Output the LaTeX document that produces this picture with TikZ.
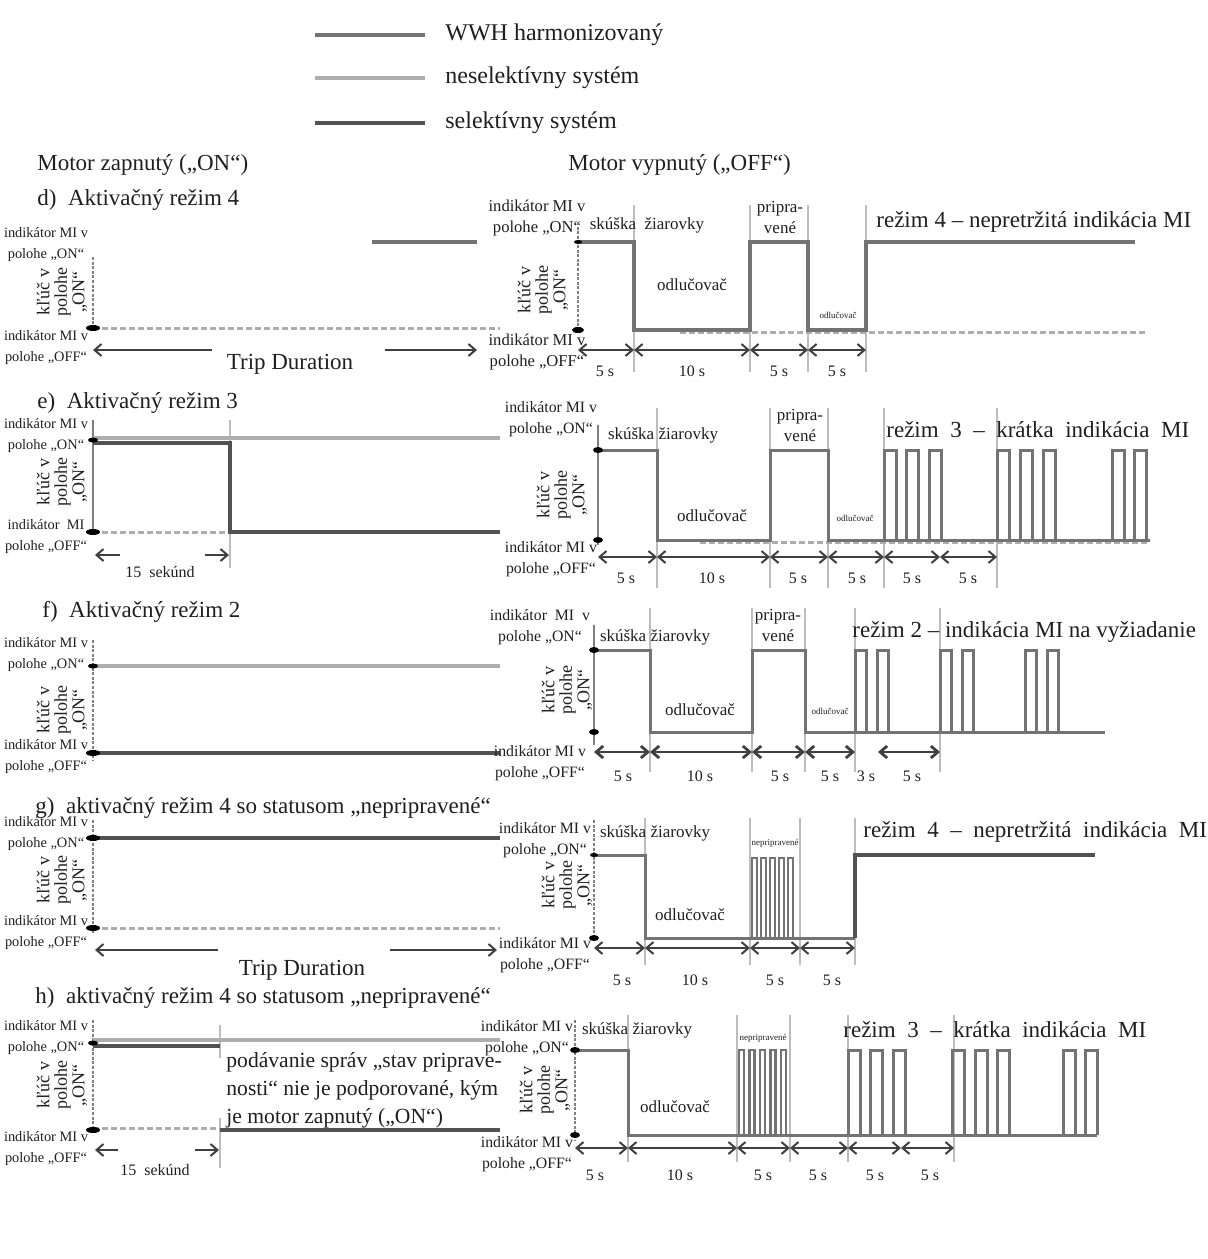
\documentclass[tikz,border=0pt]{standalone}
\usepackage{fontspec}
\setmainfont{Liberation Serif}
\usetikzlibrary{arrows.meta}
\definecolor{wwh}{gray}{0.45}
\definecolor{nonsel}{gray}{0.68}
\definecolor{sel}{gray}{0.32}
\definecolor{tick}{gray}{0.74}

\begin{document}
\begin{tikzpicture}[
        x=0.5pt, y=-0.5pt,
        every node/.style={inner sep=0pt, text=black!88},
        lab/.style={font=\fontsize{7.2}{10.5}\selectfont, align=center},
        rlab/.style={font=\fontsize{7.9}{10.5}\selectfont, align=center},
        keylab/.style={font=\fontsize{9}{8.8}\selectfont, align=center, rotate=90},
        head/.style={font=\fontsize{11.5}{13}\selectfont, anchor=west},
        legtext/.style={font=\fontsize{12}{14}\selectfont, anchor=west},
        mode/.style={font=\fontsize{11.5}{13}\selectfont, anchor=west},
        phase/.style={font=\fontsize{8.5}{10.5}\selectfont, align=center},
        tinylab/.style={font=\fontsize{4.5}{5}\selectfont},
        sec/.style={font=\fontsize{8}{9}\selectfont},
        axis/.style={draw=gray, line width=1.2pt, dash pattern=on 1.5pt off 0.8pt},
        sig/.style={draw=wwh, line width=1.5pt},
        base/.style={draw=nonsel, line width=1.5pt, dash pattern=on 3pt off 1.5pt},
        tickline/.style={draw=tick, line width=0.8pt},
        dim/.style={{Straight Barb[length=3.5pt,width=6pt]}-{Straight Barb[length=3.5pt,width=6pt]}, draw=black!75, line width=1pt},
        half/.style={-{Straight Barb[length=3.5pt,width=6pt]}, draw=black!75, line width=1pt},
        blob/.style={fill=black},
    ]
    \path[use as bounding box] (0,0) rectangle (1208,1259);

    % legend
    \draw[wwh, line width=2pt] (315,35) -- (425,35);
    \draw[nonsel, line width=2pt] (315,78) -- (425,78);
    \draw[sel, line width=2pt] (315,123) -- (425,123);
    \node[legtext] (leg-wwh) at (445,35) {WWH harmonizovaný};
    \node[legtext] (leg-non) at (445,78) {neselektívny systém};
    \node[legtext] (leg-sel) at (445,123) {selektívny systém};

    \node[head] (motor-on) at (37,165) {Motor zapnutý („ON“)};
    \node[head] (motor-off) at (568,165) {Motor vypnutý („OFF“)};

    % d
    \node[head] (d-title) at (37,200) {d)\ \ Aktivačný\ režim\ 4};
    \node[lab] (dL-on) at (46,245) {indikátor MI v\\polohe „ON“};
    \node[keylab] (dL-key) at (62,292) {kľúč v\\polohe\\„ON“};
    \node[lab] (dL-off) at (46,348) {indikátor MI v\\polohe „OFF“};
    \draw[axis] (93,257) -- (93,328);
    \draw[base] (93,328) -- (500,328);
    \fill[blob] (93,328) ellipse [x radius=7, y radius=3];
    \draw[wwh, line width=1.8pt] (372,242) -- (477,242);
    \coordinate (dL-a0) at (93,350);
    \coordinate (dL-a1) at (212,350);
    \coordinate (dL-a2) at (385,350);
    \coordinate (dL-a3) at (477,350);
    \draw[half] (dL-a1) -- (dL-a0);
    \draw[half] (dL-a2) -- (dL-a3);
    \node[font=\fontsize{11.5}{13}\selectfont] (dL-trip) at (290,364) {Trip Duration};

    \node[rlab, font=\fontsize{8.3}{10.5}\selectfont] (dR-on) at (537,218) {indikátor MI v\\polohe „ON“};
    \node[keylab] (dR-key) at (543,290) {kľúč v\\polohe\\„ON“};
    \node[rlab, font=\fontsize{8.3}{10.5}\selectfont] (dR-off) at (537,352) {indikátor MI v\\polohe „OFF“};
    \draw[axis] (578,222) -- (578,330);
    \foreach \x in {634,750,808,866} \draw[tickline] (\x,205) -- (\x,372);
    \draw[base] (680,332) -- (1145,332);
    \draw[sig, line width=2pt] (578,242) -- (634,242) -- (634,330) -- (750,330) -- (750,242) -- (808,242)
        -- (808,330) -- (866,330) -- (866,242) -- (1135,242);
    \fill[blob] (578,242) ellipse [x radius=4, y radius=2];
    \fill[blob] (578,330) ellipse [x radius=6, y radius=3];
    \foreach \x [count=\i] in {578,634,750,808,866} \coordinate (dR\i) at (\x,350);
    \foreach \i/\j in {1/2,2/3,3/4,4/5} \draw[dim] (dR\i) -- (dR\j);
    \foreach \x/\t [count=\i] in {605/5 s,692/10 s,779/5 s,837/5 s} \node[sec] (dR-s\i) at (\x,371) {\t};
    \node[phase] (dR-test) at (647,225) {skúška\ \ žiarovky};
    \node[phase] (dR-ready) at (780,217) {pripra-\\vené};
    \node[phase] (dR-disc) at (692,285) {odlučovač};
    \node[tinylab] (dR-disc2) at (838,315) {odlučovač};
    \node[mode] (dR-mode) at (876,222) {režim 4 – nepretržitá indikácia MI};

    % e
    \node[head] (e-title) at (37,403) {e)\ \ Aktivačný\ režim\ 3};
    \node[lab] (eL-on) at (46,436) {indikátor MI v\\polohe „ON“};
    \node[keylab] (eL-key) at (62,482) {kľúč v\\polohe\\„ON“};
    \node[lab] (eL-off) at (46,537) {indikátor\ \ MI\\polohe „OFF“};
    \draw[gray, line width=1pt] (93,420) -- (93,535);
    \draw[tickline] (230,420) -- (230,568);
    \draw[nonsel, line width=1.8pt] (93,438) -- (500,438);
    \draw[base] (93,532) -- (230,532);
    \draw[sel, line width=2pt] (93,443) -- (230,443) -- (230,532) -- (500,532);
    \fill[blob] (93,440) ellipse [x radius=5, y radius=2.5];
    \fill[blob] (93,532) ellipse [x radius=7, y radius=3];
    \coordinate (eL-a0) at (95,555);
    \coordinate (eL-a1) at (120,555);
    \coordinate (eL-a2) at (205,555);
    \coordinate (eL-a3) at (229,555);
    \draw[half] (eL-a1) -- (eL-a0);
    \draw[half] (eL-a2) -- (eL-a3);
    \node[sec] (eL-sec) at (160,572) {15\ \ sekúnd};

    \node[rlab] (eR-on) at (551,419) {indikátor MI v\\polohe „ON“};
    \node[keylab] (eR-key) at (562,495) {kľúč v\\polohe\\„ON“};
    \node[rlab] (eR-off) at (551,559) {indikátor MI v\\polohe „OFF“};
    \draw[gray, line width=1pt] (598,425) -- (598,545);
    \foreach \x in {657,770,828,884,997} \draw[tickline] (\x,408) -- (\x,588);
    \draw[base] (700,542) -- (1150,542);
    \draw[sig] (598,450) -- (657,450) -- (657,540) -- (770,540) -- (770,450) -- (828,450) -- (828,540) -- (1150,540);
    \foreach \s in {884,906,929,997,1020,1043,1112,1134}
        \draw[sig] (\s,540) -- (\s,450) -- (\s+12,450) -- (\s+12,540);
    \fill[blob] (598,450) ellipse [x radius=5, y radius=3];
    \fill[blob] (598,540) ellipse [x radius=5, y radius=3];
    \foreach \x [count=\i] in {598,657,770,828,884,940,997} \coordinate (eR\i) at (\x,557);
    \foreach \i/\j in {1/2,2/3,3/4,4/5,5/6,6/7} \draw[dim] (eR\i) -- (eR\j);
    \foreach \x/\t [count=\i] in {626/5 s,712/10 s,798/5 s,857/5 s,912/5 s,968/5 s} \node[sec] (eR-s\i) at (\x,578) {\t};
    \node[phase] (eR-test) at (663,435) {skúška žiarovky};
    \node[phase] (eR-ready) at (800,425) {pripra-\\vené};
    \node[phase] (eR-disc) at (712,516) {odlučovač};
    \node[tinylab] (eR-disc2) at (855,518) {odlučovač};
    \node[mode] (eR-mode) at (886,430) {režim\ \ 3\ \ –\ \ krátka\ \ indikácia\ \ MI};

    % f
    \node[head] (f-title) at (42,612) {f)\ \ Aktivačný\ režim\ 2};
    \node[lab] (fL-on) at (46,655) {indikátor MI v\\polohe „ON“};
    \node[keylab] (fL-key) at (62,710) {kľúč v\\polohe\\„ON“};
    \node[lab] (fL-off) at (46,757) {indikátor MI v\\polohe „OFF“};
    \draw[axis] (93,640) -- (93,760);
    \draw[nonsel, line width=1.8pt] (93,666) -- (500,666);
    \draw[sel, line width=2pt] (93,753) -- (500,753);
    \fill[blob] (93,666) ellipse [x radius=5, y radius=2.5];
    \fill[blob] (93,753) ellipse [x radius=7, y radius=3];

    \node[rlab] (fR-on) at (540,627) {indikátor\ \ MI\ \ v\\polohe „ON“};
    \node[keylab] (fR-key) at (567,690) {kľúč v\\polohe\\„ON“};
    \node[rlab] (fR-off) at (540,763) {indikátor MI v\\polohe „OFF“};
    \draw[gray, line width=1pt] (594,625) -- (594,745);
    \foreach \x in {650,752,805,855,940} \draw[tickline] (\x,608) -- (\x,772);
    \draw[sig] (594,650) -- (650,650) -- (650,732) -- (752,732) -- (752,650) -- (805,650) -- (805,732) -- (1105,732);
    \foreach \s in {855,877,940,962,1025,1047}
        \draw[sig] (\s,732) -- (\s,650) -- (\s+11,650) -- (\s+11,732);
    \fill[blob] (594,650) ellipse [x radius=5, y radius=3];
    \fill[blob] (594,732) ellipse [x radius=5, y radius=3];
    \foreach \x [count=\i] in {594,650,752,805,855} \coordinate (fR\i) at (\x,752);
    \foreach \i/\j in {1/2,2/3,3/4,4/5} \draw[dim, line width=1.4pt] (fR\i) -- (fR\j);
    \coordinate (fR6) at (878,752);
    \coordinate (fR7) at (940,752);
    \draw[dim, line width=1.4pt] (fR6) -- (fR7);
    \foreach \x/\t [count=\i] in {623/5 s,700/10 s,780/5 s,830/5 s,866/3 s,912/5 s} \node[sec] (fR-s\i) at (\x,776) {\t};
    \node[phase] (fR-test) at (655,637) {skúška žiarovky};
    \node[phase] (fR-ready) at (778,625) {pripra-\\vené};
    \node[phase] (fR-disc) at (700,710) {odlučovač};
    \node[tinylab] (fR-disc2) at (830,711) {odlučovač};
    \node[mode] (fR-mode) at (852,632) {režim 2 – indikácia MI na vyžiadanie};

    % g
    \node[head] (g-title) at (35,808) {g)\ \ aktivačný režim 4 so statusom „nepripravené“};
    \node[lab] (gL-on) at (46,834) {indikátor MI v\\polohe „ON“};
    \node[keylab] (gL-key) at (62,880) {kľúč v\\polohe\\„ON“};
    \node[lab] (gL-off) at (46,933) {indikátor MI v\\polohe „OFF“};
    \draw[axis] (93,820) -- (93,935);
    \draw[sel, line width=2pt] (93,838) -- (500,838);
    \draw[base] (93,928) -- (500,928);
    \fill[blob] (93,838) ellipse [x radius=7, y radius=3];
    \fill[blob] (93,928) ellipse [x radius=7, y radius=3];
    \coordinate (gL-a0) at (95,950);
    \coordinate (gL-a1) at (218,950);
    \coordinate (gL-a2) at (390,950);
    \coordinate (gL-a3) at (497,950);
    \draw[half] (gL-a1) -- (gL-a0);
    \draw[half] (gL-a2) -- (gL-a3);
    \node[font=\fontsize{11.5}{13}\selectfont] (gL-trip) at (302,970) {Trip Duration};

    \node[rlab] (gR-on) at (545,840) {indikátor MI v\\polohe „ON“};
    \node[keylab] (gR-key) at (567,885) {kľúč v\\polohe\\„ON“};
    \node[rlab] (gR-off) at (545,955) {indikátor MI v\\polohe „OFF“};
    \draw[axis] (594,820) -- (594,940);
    \foreach \x in {645,750,800,855} \draw[tickline] (\x,818) -- (\x,965);
    \draw[sig] (594,855) -- (645,855) -- (645,938) -- (855,938);
    \foreach \s in {752,761,770,779,788}
        \draw[sig, line width=1.1pt] (\s,938) -- (\s,858) -- (\s+5,858) -- (\s+5,938);
    \draw[sel, line width=2.2pt] (855,938) -- (855,855) -- (1095,855);
    \fill[blob] (594,855) ellipse [x radius=4, y radius=2];
    \fill[blob] (594,938) ellipse [x radius=5, y radius=3];
    \foreach \x [count=\i] in {594,645,750,800,855} \coordinate (gR\i) at (\x,948);
    \foreach \i/\j in {1/2,2/3,3/4,4/5} \draw[dim] (gR\i) -- (gR\j);
    \foreach \x/\t [count=\i] in {622/5 s,695/10 s,775/5 s,832/5 s} \node[sec] (gR-s\i) at (\x,980) {\t};
    \node[phase] (gR-test) at (655,833) {skúška žiarovky};
    \node[tinylab] (gR-notready) at (775,843) {nepripravené};
    \node[phase] (gR-disc) at (690,915) {odlučovač};
    \node[mode] (gR-mode) at (863,832) {režim\ \ 4\ \ –\ \ nepretržitá\ \ indikácia\ \ MI};

    % h
    \node[head] (h-title) at (35,998) {h)\ \ aktivačný režim 4 so statusom „nepripravené“};
    \node[lab] (hL-on) at (46,1038) {indikátor MI v\\polohe „ON“};
    \node[keylab] (hL-key) at (62,1085) {kľúč v\\polohe\\„ON“};
    \node[lab] (hL-off) at (46,1149) {indikátor MI v\\polohe „OFF“};
    \draw[axis] (93,1020) -- (93,1135);
    \draw[tickline] (220,1025) -- (220,1058);
    \draw[tickline] (220,1118) -- (220,1168);
    \draw[nonsel, line width=1.8pt] (93,1040) -- (500,1040);
    \draw[sel, line width=2pt] (93,1046) -- (220,1046);
    \draw[base] (93,1128) -- (220,1128);
    \draw[sel, line width=2pt] (220,1130) -- (500,1130);
    \fill[blob] (93,1043) ellipse [x radius=5, y radius=2.5];
    \fill[blob] (93,1130) ellipse [x radius=7, y radius=3];
    \coordinate (hL-a0) at (95,1150);
    \coordinate (hL-a1) at (118,1150);
    \coordinate (hL-a2) at (195,1150);
    \coordinate (hL-a3) at (219,1150);
    \draw[half] (hL-a1) -- (hL-a0);
    \draw[half] (hL-a2) -- (hL-a3);
    \node[sec] (hL-sec) at (155,1170) {15\ \ sekúnd};
    \node[anchor=north west, align=left, font=\fontsize{10.8}{14}\selectfont] (hL-note) at (226,1052)
        {podávanie správ „stav priprave-\\nosti“ nie je podporované, kým\\je motor zapnutý („ON“)};

    \node[rlab] (hR-on) at (527,1038) {indikátor MI v\\polohe „ON“};
    \node[keylab] (hR-key) at (545,1090) {kľúč v\\polohe\\„ON“};
    \node[rlab] (hR-off) at (527,1154) {indikátor MI v\\polohe „OFF“};
    \draw[axis] (575,1020) -- (575,1140);
    \foreach \x in {628,737,790,848,954} \draw[tickline] (\x,1015) -- (\x,1162);
    \draw[sig] (575,1050) -- (628,1050) -- (628,1135) -- (1097,1135);
    \foreach \s in {739,749.5,760,770.5,781}
        \draw[sig, line width=1.1pt] (\s,1135) -- (\s,1050) -- (\s+5,1050) -- (\s+5,1135);
    \foreach \s in {848,870,893,952,975,997,1063,1085}
        \draw[sig] (\s,1135) -- (\s,1050) -- (\s+12,1050) -- (\s+12,1135);
    \fill[blob] (575,1050) ellipse [x radius=5, y radius=3];
    \fill[blob] (575,1135) ellipse [x radius=5, y radius=3];
    \foreach \x [count=\i] in {575,628,737,790,848,901,954} \coordinate (hR\i) at (\x,1148);
    \foreach \i/\j in {1/2,2/3,3/4,4/5,5/6,6/7} \draw[dim] (hR\i) -- (hR\j);
    \foreach \x/\t [count=\i] in {595/5 s,680/10 s,763/5 s,818/5 s,875/5 s,930/5 s} \node[sec] (hR-s\i) at (\x,1175) {\t};
    \node[phase] (hR-test) at (637,1030) {skúška žiarovky};
    \node[tinylab] (hR-notready) at (763,1038) {nepripravené};
    \node[phase] (hR-disc) at (675,1107) {odlučovač};
    \node[mode] (hR-mode) at (843,1030) {režim\ \ 3\ \ –\ \ krátka\ \ indikácia\ \ MI};
\end{tikzpicture}
\end{document}
